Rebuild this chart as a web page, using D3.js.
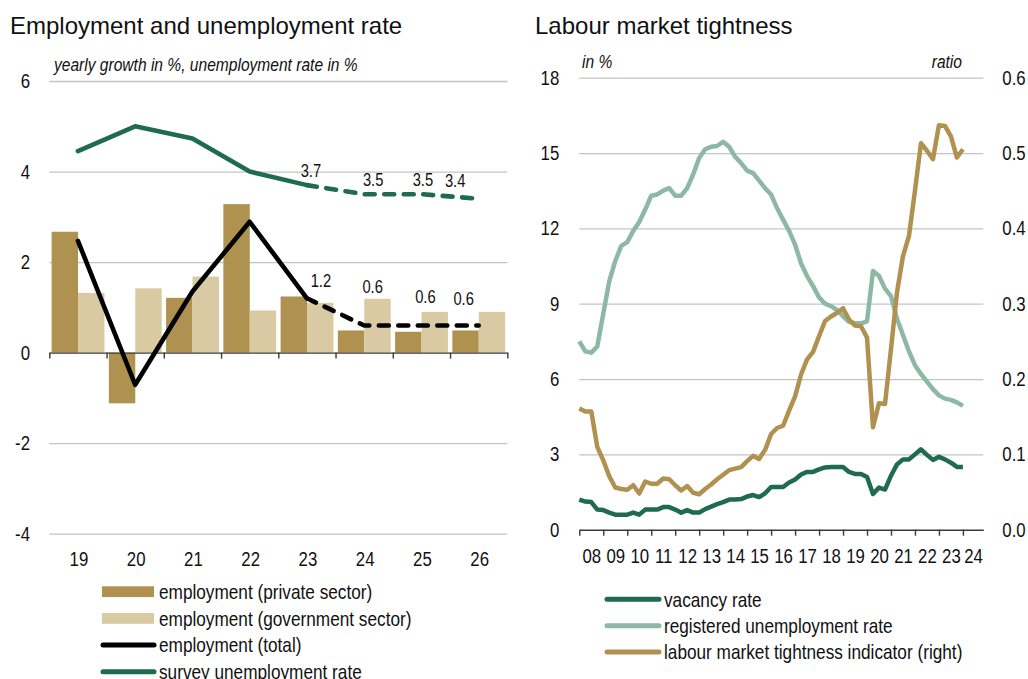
<!DOCTYPE html>
<html>
<head>
<meta charset="utf-8">
<script src="https://cdn.jsdelivr.net/npm/d3@7"></script>
<style>
  html, body { margin: 0; padding: 0; background: #fff; }
  svg { display: block; }
  text { fill: #111; }
</style>
</head>
<body>
<svg id="chart" width="1028" height="679"></svg>
<script>
// ---- Left panel: employment growth and unemployment rate ----
const years = ["19", "20", "21", "22", "23", "24", "25", "26"];
const privateEmployment = [2.67, -1.12, 1.21, 3.28, 1.24, 0.49, 0.46, 0.49];
const governmentEmployment = [1.32, 1.42, 1.68, 0.93, 1.10, 1.19, 0.90, 0.90];
const totalEmployment = [2.47, -0.71, 1.35, 2.89, 1.2, 0.6, 0.6, 0.6];
const surveyUnemployment = [4.45, 5.0, 4.73, 4.0, 3.7, 3.5, 3.5, 3.4];
const forecastStart = "23";           // dashed from this year on
const leftTicks = [-4, -2, 0, 2, 4, 6];

// ---- Right panel: labour market tightness (quarterly, 2008Q1 - 2024Q1) ----
const startYear = 2008;
const vacancyRate = [
  1.2, 1.12, 1.1, 0.8, 0.78, 0.68, 0.6, 0.6, 0.6, 0.68, 0.6, 0.8, 0.8, 0.8, 0.9, 0.9,
  0.8, 0.68, 0.78, 0.68, 0.68, 0.82, 0.92, 1.02, 1.1, 1.2, 1.2, 1.22, 1.32, 1.38, 1.3, 1.45,
  1.7, 1.7, 1.7, 1.88, 2.0, 2.2, 2.3, 2.3, 2.4, 2.48, 2.5, 2.5, 2.5, 2.3, 2.22, 2.22,
  2.1, 1.42, 1.68, 1.6, 2.15, 2.6, 2.8, 2.8, 3.0, 3.2, 2.98, 2.78, 2.9, 2.8, 2.67, 2.5, 2.5
];
const registeredUnemployment = [
  7.5, 7.1, 7.05, 7.3, 8.6, 9.9, 10.7, 11.3, 11.45, 11.9, 12.25, 12.75, 13.3, 13.35, 13.5, 13.6,
  13.3, 13.3, 13.6, 14.15, 14.8, 15.15, 15.25, 15.28, 15.45, 15.25, 14.85, 14.6, 14.3, 14.2, 13.9, 13.6,
  13.35, 12.8, 12.35, 11.9, 11.35, 10.6, 10.1, 9.7, 9.25, 9.0, 8.9, 8.75, 8.5, 8.28, 8.22, 8.22,
  8.3, 10.3, 10.1, 9.6, 9.3, 8.4, 7.75, 7.1, 6.55, 6.2, 5.9, 5.6, 5.35, 5.22, 5.17, 5.07, 4.93
];
const tightness = [
  0.161, 0.157, 0.157, 0.11, 0.092, 0.071, 0.056, 0.054, 0.053, 0.059, 0.048, 0.064, 0.061, 0.061, 0.068, 0.067,
  0.059, 0.052, 0.058, 0.049, 0.047, 0.054, 0.06, 0.067, 0.073, 0.079, 0.081, 0.083, 0.091, 0.098, 0.094, 0.106,
  0.127, 0.135, 0.138, 0.158, 0.177, 0.206, 0.226, 0.236, 0.257, 0.277, 0.283, 0.288, 0.294, 0.279, 0.271, 0.270,
  0.255, 0.136, 0.168, 0.167, 0.24, 0.315, 0.363, 0.39, 0.45, 0.513, 0.503, 0.492, 0.537, 0.536, 0.522, 0.494, 0.505
];
const yearLabels = ["08","09","10","11","12","13","14","15","16","17","18","19","20","21","22","23","24"];
const rightTicksLeft = [0, 3, 6, 9, 12, 15, 18];
const rightTicksRight = [0.0, 0.1, 0.2, 0.3, 0.4, 0.5, 0.6];

// ---- styling ----
const C = {
  privateBar: "#B09250",
  govBar: "#D9CAA4",
  total: "#000000",
  survey: "#1F6B4F",
  vacancy: "#1F6B4F",
  registered: "#8EB8A6",
  tight: "#B0914F",
  grid: "#C4C4C4",
  axis: "#3a3a3a"
};
const SANS = "'Liberation Sans', Arial, Helvetica, sans-serif";
const NARROW_SCALE = 0.82;   // condensed face emulated by horizontal scaling
const plainNum = d => String(d).replace("\u2212", "-");

const svg = d3.select("#chart");
svg.append("rect").attr("width", 1028).attr("height", 679).attr("fill", "#fff");

// condense a text selection horizontally about its own anchor x
function narrow(sel) {
  sel.attr("font-family", SANS).each(function () {
    const x = +this.getAttribute("x") || 0;
    d3.select(this).attr("transform", `translate(${x},0) scale(${NARROW_SCALE},1) translate(${-x},0)`);
  });
}

// ================= LEFT PANEL =================
const L = { x0: 49.3, x1: 507.3 };
const xBand = d3.scaleBand().domain(years).range([L.x0, L.x1]).paddingInner(0).paddingOuter(0);
const xEdge = d3.scaleLinear().domain([0, years.length]).range([L.x0, L.x1]);
const yL = d3.scaleLinear().domain([-4, 6]).range([533.7, 81]);

svg.append("text").attr("x", 10).attr("y", 34).attr("font-family", SANS).attr("font-size", 24)
  .text("Employment and unemployment rate");
svg.append("text").attr("x", 54).attr("y", 71).attr("font-size", 19)
  .attr("font-style", "italic").text("yearly growth in %, unemployment rate in %").call(narrow);

// gridlines
const gridL = svg.append("g").attr("transform", `translate(${L.x0},0)`)
  .call(d3.axisLeft(yL).tickValues(leftTicks.filter(v => v !== 0)).tickSize(-(L.x1 - L.x0)).tickFormat(""));
gridL.select(".domain").remove();
gridL.selectAll("line").attr("stroke", C.grid).attr("stroke-width", 1.3);

// y labels
const yAxL = svg.append("g").attr("transform", `translate(${L.x0},0)`)
  .call(d3.axisLeft(yL).tickValues(leftTicks).tickSize(0).tickPadding(19.3).tickFormat(plainNum));
yAxL.select(".domain").remove();
yAxL.selectAll("text").attr("font-size", 20.5).attr("fill", "#111").call(narrow);

// bars
const bw = (xBand.bandwidth() - 4.4) / 2;
const barG = svg.append("g");
barG.selectAll("rect.priv").data(years).join("rect")
  .attr("x", d => xBand(d) + 2.3)
  .attr("width", bw)
  .attr("y", (d, i) => yL(Math.max(0, privateEmployment[i])))
  .attr("height", (d, i) => Math.abs(yL(privateEmployment[i]) - yL(0)))
  .attr("fill", C.privateBar);
barG.selectAll("rect.gov").data(years).join("rect")
  .attr("x", d => xBand(d) + 2.3 + bw)
  .attr("width", bw)
  .attr("y", (d, i) => yL(Math.max(0, governmentEmployment[i])))
  .attr("height", (d, i) => Math.abs(yL(governmentEmployment[i]) - yL(0)))
  .attr("fill", C.govBar);

// x axis at zero with boundary ticks
const xAxL = svg.append("g").attr("transform", `translate(0,${yL(0)})`)
  .call(d3.axisBottom(xEdge).tickValues(d3.range(years.length + 1)).tickSize(6).tickFormat("").tickSizeOuter(0));
xAxL.select(".domain").attr("stroke", C.axis).attr("stroke-width", 1.4);
xAxL.selectAll("line").attr("stroke", C.axis).attr("stroke-width", 1.4);

// x labels at bottom
const xLabL = svg.append("g").attr("transform", `translate(1,551)`)
  .call(d3.axisBottom(xBand).tickSize(0).tickPadding(0));
xLabL.select(".domain").remove();
xLabL.selectAll("text").attr("font-size", 20.5).attr("fill", "#111").call(narrow);

// lines (solid history, dashed forecast)
const fIdx = years.indexOf(forecastStart);
const lineL = d3.line().x(d => xBand(d.k) + xBand.bandwidth() / 2).y(d => yL(d.v));
function drawSplit(values, color) {
  const pts = years.map((k, i) => ({ k, v: values[i] }));
  svg.append("path").attr("d", lineL(pts.slice(0, fIdx + 1))).attr("fill", "none")
    .attr("stroke", color).attr("stroke-width", 4.6).attr("stroke-linejoin", "round").attr("stroke-linecap", "round");
  svg.append("path").attr("d", lineL(pts.slice(fIdx))).attr("fill", "none")
    .attr("stroke", color).attr("stroke-width", 4.6).attr("stroke-linejoin", "round")
    .attr("stroke-linecap", "round").attr("stroke-dasharray", "10,9.5");
}
drawSplit(surveyUnemployment, C.survey);
drawSplit(totalEmployment, C.total);

// value labels for forecast years
const unempNudge = [[4, -8.5], [9, -8.5], [1.5, -8.5], [-23.5, -12]];
const empNudge = [[14, -11], [8.5, -32], [4, -22], [-15, -20]];
const fmt1 = d3.format(".1f");
years.slice(fIdx).forEach((k, j) => {
  const i = fIdx + j;
  const cx = xBand(k) + xBand.bandwidth() / 2;
  svg.append("text").attr("x", cx + unempNudge[j][0]).attr("y", yL(surveyUnemployment[i]) + unempNudge[j][1])
    .attr("text-anchor", "middle").attr("font-size", 18)
    .text(fmt1(surveyUnemployment[i])).call(narrow);
  svg.append("text").attr("x", cx + empNudge[j][0]).attr("y", yL(totalEmployment[i]) + empNudge[j][1])
    .attr("text-anchor", "middle").attr("font-size", 18)
    .text(fmt1(totalEmployment[i])).call(narrow);
});

// legend (left)
const legL = [
  { label: "employment (private sector)", type: "bar", color: C.privateBar },
  { label: "employment (government sector)", type: "bar", color: C.govBar },
  { label: "employment (total)", type: "line", color: C.total },
  { label: "survey unemployment rate", type: "line", color: C.survey }
];
legL.forEach((d, i) => {
  const y = 591.7 + i * 26.7;
  if (d.type === "bar") {
    svg.append("rect").attr("x", 102).attr("y", y - 5.4).attr("width", 52).attr("height", 10.8).attr("fill", d.color);
  } else {
    svg.append("line").attr("x1", 103).attr("x2", 154).attr("y1", y).attr("y2", y)
      .attr("stroke", d.color).attr("stroke-width", 5).attr("stroke-linecap", "round");
  }
  svg.append("text").attr("x", 159).attr("y", y + 7.3).attr("font-size", 21).text(d.label).call(narrow);
});

// ================= RIGHT PANEL =================
const R = { x0: 579.3, x1: 983.3 };
const xT = d3.scaleLinear().domain([2008, 2024.85]).range([R.x0, R.x1]);
const yR = d3.scaleLinear().domain([0, 18]).range([529.7, 77.7]);
const yR2 = d3.scaleLinear().domain([0, 0.6]).range([529.7, 77.7]);

svg.append("text").attr("x", 535).attr("y", 34).attr("font-family", SANS).attr("font-size", 24)
  .text("Labour market tightness");
svg.append("text").attr("x", 582).attr("y", 68).attr("font-size", 19)
  .attr("font-style", "italic").text("in %").call(narrow);
svg.append("text").attr("x", 962).attr("y", 68).attr("text-anchor", "end")
  .attr("font-size", 19).attr("font-style", "italic").text("ratio").call(narrow);

const gridR = svg.append("g").attr("transform", `translate(${R.x0},0)`)
  .call(d3.axisLeft(yR).tickValues(rightTicksLeft.filter(v => v !== 0)).tickSize(-(R.x1 - R.x0)).tickFormat(""));
gridR.select(".domain").remove();
gridR.selectAll("line").attr("stroke", C.grid).attr("stroke-width", 1.3);

const yAxR1 = svg.append("g").attr("transform", `translate(${R.x0},0)`)
  .call(d3.axisLeft(yR).tickValues(rightTicksLeft).tickSize(0).tickPadding(20).tickFormat(plainNum));
yAxR1.select(".domain").remove();
yAxR1.selectAll("text").attr("font-size", 20.5).attr("fill", "#111").call(narrow);

const yAxR2 = svg.append("g").attr("transform", `translate(${R.x1},0)`)
  .call(d3.axisRight(yR2).tickValues(rightTicksRight).tickSize(0).tickPadding(19).tickFormat(d3.format(".1f")));
yAxR2.select(".domain").remove();
yAxR2.selectAll("text").attr("font-size", 20.5).attr("fill", "#111").call(narrow);

const quarterX = i => xT(startYear + i / 4);
const lineR = (scale) => d3.line().x((d, i) => quarterX(i)).y(d => scale(d));
function drawSeries(values, scale, color) {
  svg.append("path").attr("d", lineR(scale)(values)).attr("fill", "none").attr("stroke", color)
    .attr("stroke-width", 4.5).attr("stroke-linejoin", "round").attr("stroke-linecap", "butt");
}
drawSeries(registeredUnemployment, yR, C.registered);
drawSeries(tightness, yR2, C.tight);
drawSeries(vacancyRate, yR, C.vacancy);

// time axis
const tickYears = d3.range(2008, 2025);
const xAxR = svg.append("g").attr("transform", `translate(0,${yR(0)})`)
  .call(d3.axisBottom(xT).tickValues(tickYears).tickSize(6).tickFormat("").tickSizeOuter(0));
xAxR.select(".domain").attr("stroke", C.axis).attr("stroke-width", 1.4);
xAxR.selectAll("line").attr("stroke", C.axis).attr("stroke-width", 1.4);

const labelYears = tickYears.map((y, i) => i < tickYears.length - 1 ? y + 0.5 : (y + 2024.85) / 2);
const xLabR = svg.append("g").attr("transform", `translate(0,548.5)`)
  .call(d3.axisBottom(xT).tickValues(labelYears).tickSize(0).tickPadding(0)
    .tickFormat((d, i) => yearLabels[i]));
xLabR.select(".domain").remove();
xLabR.selectAll("text").attr("font-size", 20.5).attr("fill", "#111").call(narrow);

// legend (right)
const legR = [
  { label: "vacancy rate", color: C.vacancy },
  { label: "registered unemployment rate", color: C.registered },
  { label: "labour market tightness indicator (right)", color: C.tight }
];
legR.forEach((d, i) => {
  const y = 599.3 + i * 26.4;
  svg.append("line").attr("x1", 607).attr("x2", 659).attr("y1", y).attr("y2", y)
    .attr("stroke", d.color).attr("stroke-width", 5).attr("stroke-linecap", "round");
  svg.append("text").attr("x", 664).attr("y", y + 7.3).attr("font-size", 21).text(d.label).call(narrow);
});
</script>
</body>
</html>
